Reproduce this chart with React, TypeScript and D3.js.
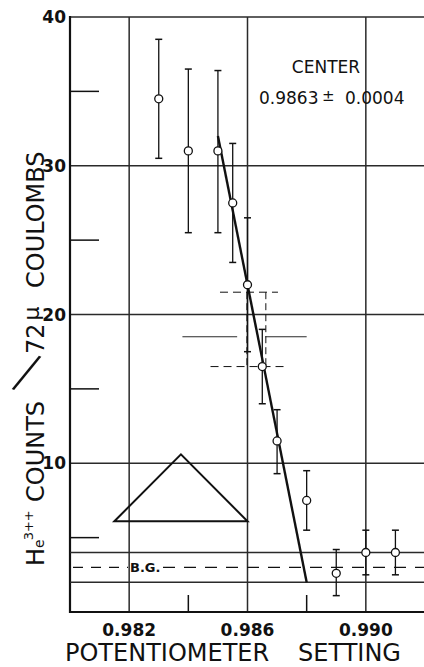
import React from "react";
import * as d3 from "d3";

// ---- data ----
const potSetting = [0.983, 0.984, 0.985, 0.9855, 0.986, 0.9865, 0.987, 0.988, 0.989, 0.99, 0.991];
const counts = [34.5, 31.0, 31.0, 27.5, 22.0, 16.5, 11.5, 7.5, 2.6, 4.0, 4.0];
const errTop = [38.5, 36.5, 36.4, 31.5, 26.5, 19.0, 13.6, 9.5, 4.2, 5.5, 5.5];
const errBottom = [30.5, 25.5, 25.5, 23.5, 17.5, 14.0, 9.3, 5.5, 1.1, 2.5, 2.5];

const fitX = [0.985, 0.988];
const fitY = [32, 2];

const triangleX = [0.9815, 0.98375, 0.986];
const triangleY = [6.1, 10.6, 6.1];

const bgSolid = [4, 2];
const bgDashed = 3;

const centerBoxX = [0.98598, 0.98662];
const centerBoxY = [16.5, 21.5];
const centerDashTopX = [0.98507, 0.98703];
const centerDashBottomX = [0.98475, 0.98723];
const centerLevel = 18.5;
const centerSegments = [[0.9838, 0.98565], [0.9866, 0.988]];

const xMajor = [0.982, 0.986, 0.99];
const xMinor = [0.984, 0.988];
const xTickLabels = ["0.982", "0.986", "0.990"];
const yMajor = [10, 20, 30, 40];
const yMinor = [5, 15, 25, 35];
const yTickLabels = ["10", "20", "30", "40"];

const W = 424;
const H = 667;

export default function App() {
  const x = d3.scaleLinear().domain([0.98, 0.992]).range([70, 425]);
  const y = d3.scaleLinear().domain([0, 40]).range([612, 17]);
  const left = x(0.98);
  const right = W;
  const top = y(40);
  const bottom = y(0);

  const fitLine = d3
    .line<number>()
    .x((_, i) => x(fitX[i]))
    .y((d) => y(d))(fitY) as string;

  const tri = triangleX.map((v, i) => `${x(v)},${y(triangleY[i])}`).join(" ");

  const font = "'DejaVu Sans', sans-serif";
  const ink = "#111";
  const grid = "#2a2a2a";
  const cap = 3.5;

  return (
    <svg
      width={W}
      height={H}
      style={{ position: "absolute", left: 0, top: 0, background: "#fff" }}
      fontFamily={font}
    >
      <rect x={0} y={0} width={W} height={H} fill="#fff" />

      {/* horizontal gridlines */}
      {yMajor.map((v) => (
        <line key={"hg" + v} x1={left} x2={right} y1={y(v)} y2={y(v)} stroke={grid} strokeWidth={v === 40 ? 1.6 : 1.3} />
      ))}
      {/* vertical gridlines */}
      {xMajor.map((v) => (
        <line key={"vg" + v} x1={x(v)} x2={x(v)} y1={top} y2={bottom} stroke={grid} strokeWidth={1.5} />
      ))}
      {/* minor ticks */}
      {yMinor.map((v) => (
        <line key={"ym" + v} x1={left} x2={left + 29} y1={y(v)} y2={y(v)} stroke={ink} strokeWidth={1.5} />
      ))}
      {xMinor.map((v) => (
        <line key={"xm" + v} x1={x(v)} x2={x(v)} y1={bottom} y2={bottom - 17} stroke={ink} strokeWidth={1.5} />
      ))}

      {/* axes */}
      <line x1={left} x2={left} y1={top - 1} y2={bottom + 1} stroke={ink} strokeWidth={2.2} />
      <line x1={left} x2={right} y1={bottom} y2={bottom} stroke={ink} strokeWidth={2.2} />

      {/* background band */}
      {bgSolid.map((v) => (
        <line key={"bg" + v} x1={left} x2={right} y1={y(v)} y2={y(v)} stroke={grid} strokeWidth={1.3} />
      ))}
      <line x1={left + 3} x2={128} y1={y(bgDashed)} y2={y(bgDashed)} stroke={ink} strokeWidth={1.2} strokeDasharray="10 8" />
      <line x1={163} x2={right} y1={y(bgDashed)} y2={y(bgDashed)} stroke={ink} strokeWidth={1.2} strokeDasharray="12 9" />
      <text x={130} y={y(bgDashed) + 5} fontSize={13} fontWeight="bold" fill={ink}>
        B.G.
      </text>

      {/* resolution triangle */}
      <polygon points={tri} fill="none" stroke={ink} strokeWidth={2} strokeLinejoin="miter" />

      {/* center estimate construction */}
      {centerSegments.map((s, i) => (
        <line key={"cs" + i} x1={x(s[0])} x2={x(s[1])} y1={y(centerLevel)} y2={y(centerLevel)} stroke={grid} strokeWidth={1.1} />
      ))}
      <line x1={x(centerDashTopX[0])} x2={x(centerDashTopX[1])} y1={y(centerBoxY[1])} y2={y(centerBoxY[1])} stroke={ink} strokeWidth={1} strokeDasharray="8 5" />
      <line x1={x(centerDashBottomX[0])} x2={x(centerDashBottomX[1])} y1={y(centerBoxY[0])} y2={y(centerBoxY[0])} stroke={ink} strokeWidth={1} strokeDasharray="8 5" />
      {centerBoxX.map((v, i) => (
        <line key={"cb" + i} x1={x(v)} x2={x(v)} y1={y(centerBoxY[1])} y2={y(centerBoxY[0])} stroke={ink} strokeWidth={1} strokeDasharray="7 4" />
      ))}

      {/* fit line */}
      <path d={fitLine} fill="none" stroke={ink} strokeWidth={2.4} />

      {/* error bars and points */}
      {potSetting.map((v, i) => {
        const cx = x(v);
        return (
          <g key={"p" + i}>
            <line x1={cx} x2={cx} y1={y(errTop[i])} y2={y(errBottom[i])} stroke={ink} strokeWidth={1.3} />
            <line x1={cx - cap} x2={cx + cap} y1={y(errTop[i])} y2={y(errTop[i])} stroke={ink} strokeWidth={1.5} />
            <line x1={cx - cap} x2={cx + cap} y1={y(errBottom[i])} y2={y(errBottom[i])} stroke={ink} strokeWidth={1.5} />
            <circle cx={cx} cy={y(counts[i])} r={4} fill="#fff" stroke={ink} strokeWidth={1.3} />
          </g>
        );
      })}

      {/* center annotation */}
      <text x={326} y={73} fontSize={17} textAnchor="middle" fill={ink}>
        CENTER
      </text>
      <text y={104} fontSize={17} fill={ink}>
        <tspan x={259}>0.9863</tspan>
        <tspan x={322} fontSize={15} dy={-3}>±</tspan>
        <tspan x={345} dy={3}>0.0004</tspan>
      </text>

      {/* y tick labels */}
      {yMajor.map((v, i) => (
        <text key={"yl" + v} x={66} y={y(v) + 6} fontSize={17} fontWeight="bold" textAnchor="end" fill={ink}>
          {yTickLabels[i]}
        </text>
      ))}
      {/* x tick labels */}
      {xMajor.map((v, i) => (
        <text key={"xl" + v} x={x(v)} y={636} fontSize={17} fontWeight="bold" textAnchor="middle" fill={ink}>
          {xTickLabels[i]}
        </text>
      ))}

      {/* x title */}
      <text x={65} y={661} fontSize={24} fill={ink}>POTENTIOMETER</text>
      <text x={298} y={661} fontSize={24} fill={ink}>SETTING</text>

      {/* y title */}
      <text transform="translate(44,566) rotate(-90)" fontSize={24} fill={ink}>
        <tspan>H</tspan>
        <tspan fontSize={14}>e</tspan>
        <tspan fontSize={13} dy={-11} dx={-1}>3++</tspan>
      </text>
      <text transform="translate(44,502) rotate(-90)" fontSize={24} fill={ink}>COUNTS</text>
      <text
        transform="translate(27,372) rotate(22)"
        y={17}
        fontSize={50}
        fontWeight={300}
        textAnchor="middle"
        fill={ink}
      >
        /
      </text>
      <text transform="translate(44,354) rotate(-90)" fontSize={24} fill={ink}>
        <tspan>72</tspan>
        <tspan fontSize={22} dy={-5} dx={3}>μ</tspan>
      </text>
      <text transform="translate(44,288) rotate(-90)" fontSize={24} fill={ink}>COULOMBS</text>
    </svg>
  );
}
